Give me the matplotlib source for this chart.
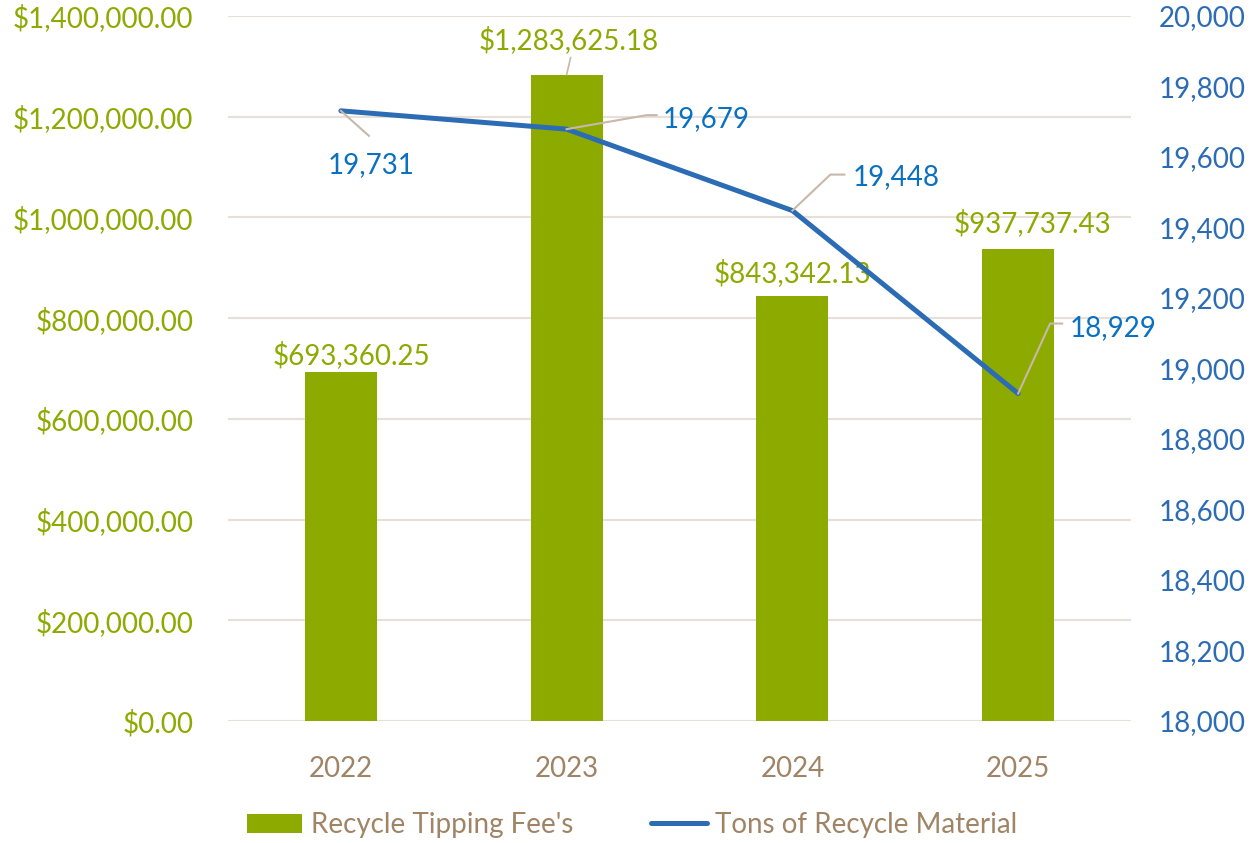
import matplotlib.pyplot as plt
import numpy as np

plt.rcParams['font.family'] = ['Lato', 'DejaVu Sans']

years = ['2022', '2023', '2024', '2025']
fees = [693360.25, 1283625.18, 843342.13, 937737.43]
tons = [19731, 19679, 19448, 18929]
fee_labels = ['$693,360.25', '$1,283,625.18', '$843,342.13', '$937,737.43']
ton_labels = ['19,731', '19,679', '19,448', '18,929']

green = '#8DAA00'
blue = '#2C6CB4'
label_blue = '#0A70C0'
brown = '#A08466'
grid = '#E6E0D8'
leader = '#C8B8A8'
fs = 20

fig = plt.figure(figsize=(12.53, 8.43), dpi=100)
ax = fig.add_axes([228 / 1253, 1 - 721 / 843, 903 / 1253, 705 / 843])
ax2 = ax.twinx()

x = np.arange(len(years))
bars = ax.bar(x, fees, width=0.32, color=green, zorder=2, label="Recycle Tipping Fee's")
ax.set_xlim(-0.5, 3.5)
ax.set_ylim(0, 1400000)
ticks_l = np.arange(0, 1400001, 200000)
ax.set_yticks(ticks_l)
ax.set_yticklabels(['${:,.2f}'.format(v) for v in ticks_l])
ax.yaxis.grid(True, color=grid, linewidth=1.5, zorder=0)
ax.set_axisbelow(True)
ax.set_xticks(x)
ax.set_xticklabels(years)
ax.tick_params(axis='x', length=0, pad=25, labelsize=fs, labelcolor=brown)
ax.tick_params(axis='y', length=0, pad=25, labelsize=fs, labelcolor=green)
for s in ax.spines.values():
    s.set_visible(False)
for s in ax2.spines.values():
    s.set_visible(False)

line, = ax2.plot(x, tons, color=blue, linewidth=3.6, solid_capstyle='round', zorder=3,
                 label='Tons of Recycle Material')
ax2.set_ylim(18000, 20000)
ticks_r = np.arange(18000, 20001, 200)
ax2.set_yticks(ticks_r)
ax2.set_yticklabels(['{:,}'.format(v) for v in ticks_r])
ax2.tick_params(axis='y', length=0, pad=20, labelsize=fs, labelcolor=blue)

# bar value labels (offsets in pixels from bar top)
bar_offsets = [(11, 17), (2, 35), (0, 23), (14, 26)]
for i, (lab, off) in enumerate(zip(fee_labels, bar_offsets)):
    ax.annotate(lab, (x[i], fees[i]), xytext=off, textcoords='offset pixels',
                ha='center', va='center', fontsize=fs, color=green)
ax.annotate('', (x[1], fees[1]), xytext=(4, 17), textcoords='offset pixels',
            arrowprops=dict(arrowstyle='-', color=leader, lw=1.2, shrinkA=0, shrinkB=0))

# line value labels with leader lines (pixel offsets from the point)
leaders = [
    [(0, 0), (28, -25)],
    [(0, 0), (80, 14), (90, 14)],
    [(0, 0), (38, 36), (52, 36)],
    [(0, 0), (32, 70), (44, 70)],
]
text_pos = [(30, -54), (96, 10), (60, 34), (52, 65)]
text_ha = ['center', 'left', 'left', 'left']
for i in range(4):
    px, py = ax2.transData.transform((x[i], tons[i]))
    lx = [px + p[0] for p in leaders[i]]
    ly = [py + p[1] for p in leaders[i]]
    fig.lines.append(plt.Line2D(lx, ly, color=leader, lw=1.5, transform=None, zorder=4))
    ax2.annotate(ton_labels[i], (x[i], tons[i]), xytext=text_pos[i], textcoords='offset pixels',
                 ha=text_ha[i], va='center', fontsize=fs, color=label_blue)

fig.legend(handles=[bars, line], loc='center', bbox_to_anchor=(632 / 1253, 1 - 825 / 843), ncol=2,
           frameon=False, fontsize=fs, labelcolor=brown, handlelength=2.0, handleheight=0.7,
           columnspacing=2.8, handletextpad=0.3)

fig.savefig('out.png', dpi=100)
